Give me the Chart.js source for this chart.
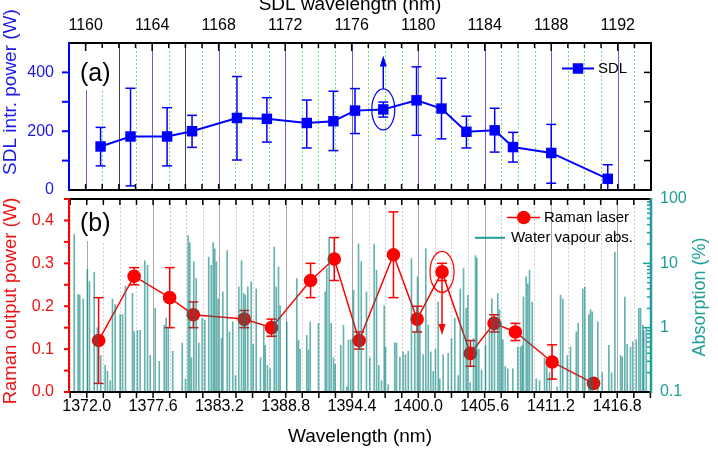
<!DOCTYPE html>
<html><head><meta charset="utf-8">
<script src="https://cdn.jsdelivr.net/npm/chart.js@4/dist/chart.umd.min.js"></script>
<style>
html,body{margin:0;padding:0;background:#fff;}
#wrap{position:relative;width:718px;height:454px;overflow:hidden;background:#fff;}
canvas{position:absolute;left:0;top:0;}
</style></head><body>
<div id="wrap"><canvas id="c2" width="718" height="454"></canvas><canvas id="c1" width="718" height="454"></canvas></div>
<script>
// ---------------- DATA ----------------
const sdlWavelength = [1160.9,1162.7,1164.9,1166.4,1169.1,1170.9,1173.3,1174.9,1176.2,1177.9,1179.9,1181.4,1182.9,1184.6,1185.7,1188.0,1191.4];
const sdlPower      = [148,182,182,200,245,242,228,234,270,274,305,277,198,203,146,126,38];
const sdlErrLow     = [82,14,82,145,102,163,143,134,192,248,186,174,143,129,95,23,0];
const sdlErrHigh    = [213,346,280,254,386,314,306,336,345,299,419,380,251,278,196,223,86];
const sdlTickLabels = [1160,1164,1168,1172,1176,1180,1184,1188,1192];
const sdlPowerTicks = [0,200,400];

const ramanWavelength = [1373.0,1376.0,1379.0,1381.0,1385.3,1387.6,1390.9,1392.9,1395.0,1397.9,1399.9,1402.0,1404.4,1406.4,1408.2,1411.3,1414.8];
const ramanPower      = [0.12,0.27,0.22,0.18,0.17,0.15,0.26,0.31,0.12,0.32,0.17,0.28,0.09,0.16,0.14,0.07,0.02];
const ramanErrLow     = [0.02,0.25,0.15,0.15,0.15,0.13,0.22,0.26,0.10,0.22,0.14,0.26,0.06,0.14,0.12,0.03,0.02];
const ramanErrHigh    = [0.22,0.29,0.29,0.21,0.19,0.17,0.30,0.36,0.14,0.42,0.20,0.30,0.12,0.18,0.16,0.11,0.02];
const ramanTickLabels = [1372.0,1377.6,1383.2,1388.8,1394.4,1400.0,1405.6,1411.2,1416.8];
const ramanPowerTicks = [0,0.1,0.2,0.3,0.4];
const absorptionTicks = [0.1,1,10,100];

const waterWavelength = [1370.94,1371.27,1371.41,1371.70,1372.05,1372.23,1372.63,1372.90,1373.18,1373.55,1373.75,1373.98,1374.17,1374.40,1374.82,1375.02,1375.27,1375.86,1376.00,1376.28,1376.51,1376.90,1377.13,1377.36,1377.78,1378.12,1378.54,1378.71,1378.88,1379.26,1380.06,1380.34,1380.56,1380.70,1380.84,1381.04,1381.24,1381.46,1381.75,1381.97,1382.30,1382.51,1382.68,1382.81,1382.95,1383.10,1383.38,1383.49,1383.86,1384.05,1384.33,1384.56,1384.84,1385.07,1385.26,1385.40,1385.60,1385.89,1386.05,1386.31,1386.67,1386.95,1387.07,1387.26,1387.49,1387.83,1388.00,1388.19,1388.33,1388.89,1389.74,1389.88,1390.02,1390.58,1390.72,1390.87,1391.57,1392.14,1392.27,1392.47,1392.64,1392.84,1392.98,1393.45,1393.68,1393.96,1394.10,1394.30,1394.53,1394.95,1395.18,1395.62,1395.90,1396.27,1396.47,1396.66,1396.89,1397.12,1397.23,1397.46,1398.01,1398.16,1398.44,1398.72,1398.92,1399.15,1399.42,1399.70,1399.93,1400.13,1400.41,1400.63,1400.84,1401.05,1401.26,1401.45,1401.68,1401.81,1402.10,1402.52,1402.80,1403.08,1403.37,1403.54,1403.82,1404.04,1404.18,1404.38,1404.66,1404.83,1404.94,1405.11,1405.34,1405.67,1406.01,1406.21,1406.43,1406.71,1406.86,1407.00,1407.14,1407.34,1407.56,1407.98,1408.40,1408.63,1408.77,1408.88,1409.11,1409.25,1409.39,1409.62,1409.96,1410.24,1410.66,1410.85,1411.08,1411.73,1412.01,1412.20,1412.58,1412.85,1413.34,1413.50,1413.89,1414.06,1414.40,1414.54,1414.69,1415.16,1415.53,1416.09,1416.32,1416.60,1417.08,1417.22,1417.44,1417.64,1417.92,1418.12,1418.40,1418.62,1418.77,1418.96,1419.04,1419.25];
const waterAbsorption = [28,3.3,3.2,2.8,8.1,5.2,7.2,1.0,0.37,0.26,0.21,0.15,2.8,2.3,1.6,1.6,4.4,3.4,0.87,0.91,0.91,11,9.3,0.37,2.0,0.30,1.09,1.4,1.0,0.43,0.58,0.16,27,21,0.34,10.6,5.8,0.58,1.4,1.3,12.5,9.3,21,16.8,10.6,2.8,0.68,3.6,15.8,0.86,1.23,0.18,4.3,11,3.4,3.2,4.3,5.2,0.55,4.0,0.34,1.09,0.53,0.26,0.23,17.9,4.3,8.8,2.2,1.23,5.8,0.64,0.46,0.76,0.45,1.23,1.17,3.6,8.3,25.7,1.17,0.34,0.27,0.53,1.09,0.12,0.64,0.65,3.8,20,10.6,3.6,0.34,20,7.8,0.26,0.15,2.2,0.5,0.13,0.58,0.58,0.35,0.42,0.38,0.43,11.8,0.86,6.2,1.09,0.38,16.8,1.1,0.42,0.21,0.46,2.5,0.16,0.38,0.4,0.68,1.4,0.18,4.0,8.3,2.0,3.2,0.14,0.68,13.2,12,0.46,0.22,0.53,0.91,2.8,1.4,3.4,1.9,1.23,0.65,0.25,0.23,0.23,0.5,0.5,0.53,3.0,6.2,4.8,7.8,2.5,0.16,0.15,0.34,0.25,0.2,0.12,3.2,2.8,0.37,0.5,0.86,1.17,4.0,4.3,1.6,1.9,1.76,1.23,0.2,0.53,0.2,15,0.37,0.35,3.0,0.55,0.5,0.6,0.65,2.0,2.0,1.1,0.9,0.97];

const circledSdlIndex = 9;
const circledRamanIndex = 11;

// ---------------- STYLE ----------------
const FONT = "'Liberation Sans', Arial, Helvetica, sans-serif";
Chart.defaults.font.family = FONT;
Chart.defaults.color = '#000';
const BLUE = '#0000ff', BLUE_TXT = '#1a1ae6', RED = '#ff0000', RED_TXT = '#ee1111', TEAL = '#1f9e98';

function seg(ctx,x1,y1,x2,y2){ctx.beginPath();ctx.moveTo(x1,y1);ctx.lineTo(x2,y2);ctx.stroke();}
function head(ctx,x,y,dir,w,h){ctx.beginPath();ctx.moveTo(x,y);ctx.lineTo(x-w/2,y-dir*h);ctx.lineTo(x+w/2,y-dir*h);ctx.closePath();ctx.fill();}
function vtext(ctx,txt,x,y,font,color){ctx.save();ctx.translate(x,y);ctx.rotate(-Math.PI/2);ctx.font=font;ctx.fillStyle=color;ctx.textAlign='center';ctx.textBaseline='middle';ctx.fillText(txt,0,0);ctx.restore();}

// ---------------- TOP PANEL ----------------
const topDeco = {
  id:'topDeco',
  beforeDatasetsDraw(chart){
    const {ctx, chartArea:a} = chart; const xs = chart.scales.xs;
    ctx.save();
    for (let v=Math.ceil(xs.min); v<=xs.max; v++){
      const x = Math.round(xs.getPixelForValue(v))+0.5;
      if (x<=a.left+1 || x>=a.right-1) continue;
      ctx.lineWidth = 1;
      if (v%4===0){ ctx.setLineDash([]); ctx.strokeStyle='rgba(60,60,215,0.8)'; }
      else if (v===1162 || v===1166){ ctx.setLineDash([]); ctx.strokeStyle='#444'; }
      else { ctx.setLineDash([2,2]); ctx.strokeStyle='#78da78'; }
      seg(ctx,x,a.top,x,a.bottom);
    }
    ctx.setLineDash([]);
    ctx.fillStyle='#fff'; ctx.fillRect(79,a.top+2,36,45);
    ctx.fillStyle='#000'; ctx.font='25px '+FONT; ctx.textBaseline='alphabetic'; ctx.textAlign='left';
    ctx.fillText('(a)',80,81);
    ctx.restore();
  },
  beforeDatasetDraw(chart,args){
    if (args.index!==0) return;
    const {ctx} = chart; const xs=chart.scales.xs, ys=chart.scales.ys;
    ctx.save(); ctx.strokeStyle=BLUE; ctx.lineWidth=1.5;
    sdlWavelength.forEach((w,i)=>{
      const x=xs.getPixelForValue(w), y1=ys.getPixelForValue(sdlErrLow[i]), y2=ys.getPixelForValue(sdlErrHigh[i]);
      seg(ctx,x,y1,x,y2); seg(ctx,x-5,y1,x+5,y1); seg(ctx,x-5,y2,x+5,y2);
    });
    ctx.restore();
  },
  afterDraw(chart){
    const {ctx, chartArea:a} = chart; const xs=chart.scales.xs, ys=chart.scales.ys;
    ctx.save();
    ctx.strokeStyle='#000'; ctx.lineWidth=1.5;
    for (let v=Math.ceil(xs.min); v<=xs.max; v++){
      const x=xs.getPixelForValue(v);
      seg(ctx,x,a.top,x,a.top+(v%4===0?8:5));
      seg(ctx,x,a.bottom,x,a.bottom-6);
    }
    for (let v=100; v<=400; v+=100){
      const y=ys.getPixelForValue(v);
      seg(ctx,a.right,y,a.right-7,y);
    }
    ctx.strokeStyle=BLUE; ctx.lineWidth=2;
    for (let v=100; v<=400; v+=100){ const y=ys.getPixelForValue(v); seg(ctx,a.left,y,a.left-7,y); }
    ctx.strokeStyle='#000'; ctx.lineWidth=2;
    seg(ctx,a.left,a.top,a.right+1,a.top); seg(ctx,a.left,a.bottom,a.right+1,a.bottom); seg(ctx,a.right,a.top,a.right,a.bottom);
    ctx.strokeStyle=BLUE; seg(ctx,a.left,a.top-1,a.left,a.bottom+1);
    const cx=xs.getPixelForValue(sdlWavelength[circledSdlIndex]), cy=ys.getPixelForValue(sdlPower[circledSdlIndex]);
    ctx.lineWidth=1.2; ctx.beginPath(); ctx.ellipse(cx,cy,11.5,20.5,0,0,Math.PI*2); ctx.stroke();
    ctx.lineWidth=1.5; seg(ctx,cx,cy-20.5,cx,cy-46); ctx.fillStyle=BLUE; head(ctx,cx,cy-54,-1,7,11);
    ctx.strokeStyle=BLUE; ctx.lineWidth=2; seg(ctx,562,68.5,594,68.5);
    ctx.fillRect(578-5.25,68.5-5.25,10.5,10.5);
    ctx.fillStyle='#000'; ctx.font='15px '+FONT; ctx.textAlign='left'; ctx.textBaseline='middle'; ctx.fillText('SDL',598,69);
    ctx.font='19px '+FONT; ctx.textAlign='center'; ctx.textBaseline='middle'; ctx.fillStyle='#000';
    ctx.fillText('SDL wavelength (nm)',350,5);
    vtext(ctx,'SDL intr. power (W)',11,92,'19px '+FONT,BLUE_TXT);
    ctx.restore();
  }
};

new Chart(document.getElementById('c1'),{
  type:'line',
  data:{datasets:[{
    data: sdlWavelength.map((w,i)=>({x:w,y:sdlPower[i]})),
    xAxisID:'xs', yAxisID:'ys',
    borderColor:BLUE, borderWidth:2, backgroundColor:BLUE,
    pointStyle:'rect', pointRadius:7.4, pointBorderWidth:0, pointBackgroundColor:BLUE, tension:0, clip:false
  }]},
  options:{
    responsive:false, animation:false, devicePixelRatio:1,
    layout:{padding:{left:0,right:67,top:0,bottom:264}},
    plugins:{legend:{display:false},tooltip:{enabled:false}},
    scales:{
      xs:{type:'linear',position:'top',min:1159,max:1194,offset:false,
        afterBuildTicks:s=>{s.ticks=sdlTickLabels.map(v=>({value:v}));},
        afterFit:s=>{s.height=43;},
        grid:{display:false,drawTicks:false}, border:{display:false},
        ticks:{font:{size:16},color:'#000',padding:8,maxRotation:0,autoSkip:false,callback:v=>String(v)}},
      ys:{type:'linear',position:'left',min:0,max:500,
        afterBuildTicks:s=>{s.ticks=sdlPowerTicks.map(v=>({value:v}));},
        afterFit:s=>{s.width=69;},
        grid:{display:false,drawTicks:false}, border:{display:false},
        ticks:{font:{size:16},color:BLUE_TXT,padding:15,callback:v=>String(v)}}
    }
  },
  plugins:[topDeco]
});

// ---------------- BOTTOM PANEL ----------------
const botDeco = {
  id:'botDeco',
  beforeDatasetsDraw(chart){
    const {ctx, chartArea:a} = chart; const xb=chart.scales.xb;
    ctx.save(); ctx.lineWidth=1;
    for (let k=-1; k<=35; k++){
      const v=1372+k*1.4; if (v<xb.min||v>xb.max) continue;
      const x=Math.round(xb.getPixelForValue(v))+0.5;
      if (x<=a.left+1||x>=a.right-1) continue;
      if (((k%4)+4)%4===0){ ctx.setLineDash([]); ctx.strokeStyle='#a8a8a8'; }
      else { ctx.setLineDash([2,2]); ctx.strokeStyle='#cfcfcf'; }
      seg(ctx,x,a.top,x,a.bottom);
    }
    ctx.setLineDash([]);
    ctx.fillStyle='#fff'; ctx.fillRect(79,a.top+2,36,40);
    ctx.fillStyle='#000'; ctx.font='25px '+FONT; ctx.textBaseline='alphabetic'; ctx.textAlign='left';
    ctx.fillText('(b)',80,231);
    ctx.restore();
  },
  beforeDatasetDraw(chart,args){
    if (args.index!==0) return;
    const {ctx}=chart; const xb=chart.scales.xb, yb=chart.scales.yb;
    ctx.save(); ctx.strokeStyle=RED; ctx.lineWidth=1.5;
    ramanWavelength.forEach((w,i)=>{
      if (ramanErrHigh[i]===ramanErrLow[i]) return;
      const x=xb.getPixelForValue(w), y1=yb.getPixelForValue(ramanErrLow[i]), y2=yb.getPixelForValue(ramanErrHigh[i]);
      seg(ctx,x,y1,x,y2); seg(ctx,x-5,y1,x+5,y1); seg(ctx,x-5,y2,x+5,y2);
    });
    ctx.restore();
  },
  afterDraw(chart){
    const {ctx, chartArea:a}=chart; const xb=chart.scales.xb, yb=chart.scales.yb, ya=chart.scales.ya;
    ctx.save();
    ctx.strokeStyle='#000'; ctx.lineWidth=1.5;
    for (let k=-1; k<=35; k++){
      const v=1372+k*1.4; if (v<xb.min||v>xb.max) continue;
      const x=xb.getPixelForValue(v);
      seg(ctx,x,a.top,x,a.top+6);
      seg(ctx,x,a.bottom,x,a.bottom+6);
    }
    ctx.strokeStyle=RED; ctx.lineWidth=2;
    for (let v=0; v<=0.45+1e-9; v+=0.05){ const y=yb.getPixelForValue(v); seg(ctx,a.left,y,a.left-5,y); }
    ctx.strokeStyle=TEAL; ctx.lineWidth=1.5;
    for (let d=0.1; d<=100; d*=10){
      seg(ctx,a.right,ya.getPixelForValue(d),a.right-8,ya.getPixelForValue(d));
      if (d<100) for (let m=2;m<=9;m++){ const y=ya.getPixelForValue(d*m); seg(ctx,a.right,y,a.right-4,y); }
    }
    ctx.strokeStyle='#000'; ctx.lineWidth=2;
    seg(ctx,a.left,a.top,a.right,a.top); seg(ctx,a.left,a.bottom,a.right,a.bottom);
    ctx.strokeStyle=RED; seg(ctx,a.left,a.top-1,a.left,a.bottom+1);
    ctx.strokeStyle=TEAL; ctx.lineWidth=2.5; seg(ctx,a.right,a.top-1,a.right,a.bottom+1);
    const cx=xb.getPixelForValue(ramanWavelength[circledRamanIndex]), cy=yb.getPixelForValue(ramanPower[circledRamanIndex]);
    ctx.strokeStyle=RED; ctx.lineWidth=1.2; ctx.beginPath(); ctx.ellipse(cx,cy,12,20.5,0,0,Math.PI*2); ctx.stroke();
    ctx.lineWidth=1.5; seg(ctx,cx,cy+8,cx,cy+54); ctx.fillStyle=RED; head(ctx,cx,cy+63,1,7,11);
    ctx.strokeStyle=RED; ctx.lineWidth=1.5; seg(ctx,507,217.5,540,217.5);
    ctx.fillStyle=RED; ctx.beginPath(); ctx.arc(523.7,217.5,6.8,0,Math.PI*2); ctx.fill();
    ctx.strokeStyle=TEAL; ctx.lineWidth=2; seg(ctx,475,237.8,505,237.8);
    ctx.fillStyle='#000'; ctx.font='15px '+FONT; ctx.textAlign='left'; ctx.textBaseline='middle';
    ctx.fillText('Raman laser',544,218); ctx.fillText('Water vapour abs.',511,238);
    ctx.font='19px '+FONT; ctx.textAlign='center'; ctx.textBaseline='middle'; ctx.fillStyle='#000';
    ctx.fillText('Wavelength (nm)',360,437);
    vtext(ctx,'Raman output power (W)',11,301,'18.5px '+FONT,RED_TXT);
    vtext(ctx,'Absorption (%)',700,297,'18px '+FONT,TEAL);
    ctx.restore();
  }
};

new Chart(document.getElementById('c2'),{
  type:'bar',
  data:{datasets:[
    {type:'line', order:1,
     data: ramanWavelength.map((w,i)=>({x:w,y:ramanPower[i]})),
     xAxisID:'xb', yAxisID:'yb',
     borderColor:RED, borderWidth:1.5, backgroundColor:RED,
     pointStyle:'circle', pointRadius:6.8, pointBorderWidth:0, pointBackgroundColor:RED, tension:0, clip:false},
    {type:'bar', order:0,
     data: waterWavelength.map((w,i)=>({x:w,y:waterAbsorption[i]})),
     xAxisID:'xb', yAxisID:'ya',
     backgroundColor:'rgba(0,128,124,0.6)', borderWidth:0, barThickness:1, grouped:false}
  ]},
  options:{
    responsive:false, animation:false, devicePixelRatio:1,
    layout:{padding:{left:0,right:0,top:199,bottom:0}},
    plugins:{legend:{display:false},tooltip:{enabled:false}},
    scales:{
      xb:{type:'linear',position:'bottom',min:1370.5,max:1419.65,offset:false,
        afterBuildTicks:s=>{s.ticks=ramanTickLabels.map(v=>({value:v}));},
        afterFit:s=>{s.height=62;},
        grid:{display:false,drawTicks:false,offset:false}, border:{display:false},
        ticks:{font:{size:16},color:'#000',padding:5,maxRotation:0,autoSkip:false,callback:v=>Number(v).toFixed(1)}},
      yb:{type:'linear',position:'left',min:0,max:0.45,
        afterBuildTicks:s=>{s.ticks=ramanPowerTicks.map(v=>({value:v}));},
        afterFit:s=>{s.width=69;},
        grid:{display:false,drawTicks:false}, border:{display:false},
        ticks:{font:{size:16},color:RED_TXT,padding:15,callback:v=>Number(v).toFixed(1)}},
      ya:{type:'logarithmic',position:'right',min:0.1,max:100,
        afterBuildTicks:s=>{s.ticks=absorptionTicks.map(v=>({value:v}));},
        afterFit:s=>{s.width=67;},
        grid:{display:false,drawTicks:false}, border:{display:false},
        ticks:{font:{size:16},color:TEAL,padding:9,autoSkip:false,callback:v=>String(v)}}
    }
  },
  plugins:[botDeco]
});
</script>
</body></html>
